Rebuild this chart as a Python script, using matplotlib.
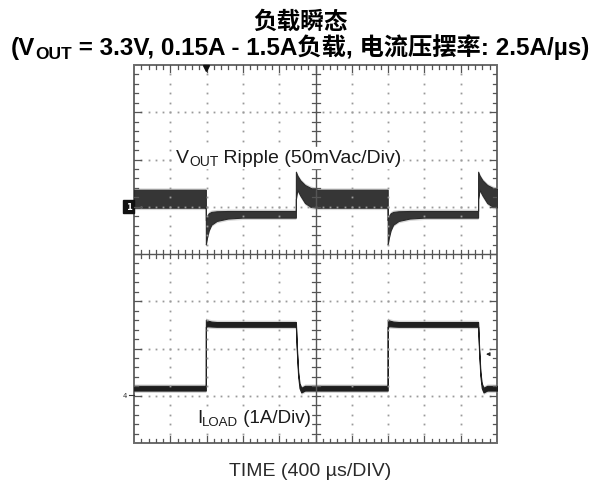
import matplotlib
matplotlib.use("Agg")
import matplotlib.pyplot as plt
from matplotlib.patches import Rectangle

# ---------------- scope settings ----------------
TIME_PER_DIV_US = 400
VOUT_MV_PER_DIV = 50
ILOAD_A_PER_DIV = 1
N_XDIV, N_YDIV = 10, 8
SCREEN_US = N_XDIV * TIME_PER_DIV_US
CH1_POS_DIV = 5.0     # VOUT channel marker, divisions above bottom
CH2_POS_DIV = 1.01    # ILOAD zero marker, divisions above bottom

# ---------------- load-step timing (us from left edge) ----------------
rise_times_us = [792, 2796]
fall_times_us = [1784, 3792]

# ---------------- VOUT ripple envelope (mV, AC coupled) ----------------
vout_light = (18.0, -1.0)            # (upper, lower) at 0.15 A
vout_up_offset_us = [0, 12, 32, 60, 120, 240, 400]
vout_up_upper_mv = [-14, -10, -7, -5.5, -4.8, -4.5, -4.5]
vout_up_lower_mv = [-40, -33, -25, -19, -15, -12.5, -11.5]
vout_dn_offset_us = [0, 16, 48, 100, 160, 240]
vout_dn_upper_mv = [37, 33, 28, 23, 20, 18]
vout_dn_lower_mv = [8, 18, 12, 4, 0, -1]

# ---------------- load current envelope (A) ----------------
iload_low = (0.20, 0.10)             # band around 0.15 A
iload_up_offset_us = [0, 20, 60, 120]
iload_up_upper_a = [1.60, 1.58, 1.56, 1.55]
iload_up_lower_a = [1.45, 1.46, 1.455, 1.45]
iload_dn_offset_us = [0, 10, 25, 40, 60, 100]
iload_dn_upper_a = [1.55, 1.05, 0.50, 0.25, 0.16, 0.20]
iload_dn_lower_a = [1.45, 0.95, 0.40, 0.15, 0.06, 0.10]


def build_envelope(start, profiles):
    """Chain the step responses at every load edge into one envelope."""
    edges = sorted([(t, "up") for t in rise_times_us] +
                   [(t, "dn") for t in fall_times_us])
    t, up, lo = [0.0], [start[0]], [start[1]]
    for te, kind in edges:
        t.append(te - 0.5); up.append(up[-1]); lo.append(lo[-1])
        offs, pu, pl = profiles[kind]
        for o, u, l in zip(offs, pu, pl):
            t.append(te + o); up.append(u); lo.append(l)
    t.append(SCREEN_US + 50); up.append(up[-1]); lo.append(lo[-1])
    return t, up, lo


vt, vu, vl = build_envelope(vout_light, {
    "up": (vout_up_offset_us, vout_up_upper_mv, vout_up_lower_mv),
    "dn": (vout_dn_offset_us, vout_dn_upper_mv, vout_dn_lower_mv)})
it, iu, il = build_envelope(iload_low, {
    "up": (iload_up_offset_us, iload_up_upper_a, iload_up_lower_a),
    "dn": (iload_dn_offset_us, iload_dn_upper_a, iload_dn_lower_a)})

W, H = 600, 485
fig = plt.figure(figsize=(W / 100, H / 100), dpi=100)
fig.patch.set_facecolor("white")
L, R, T, B = 134, 497, 66, 444
ax = fig.add_axes([L / W, 1 - B / H, (R - L) / W, (B - T) / H])
ax.set_xlim(0, N_XDIV)
ax.set_ylim(0, N_YDIV)
ax.axis("off")

# ---------------- graticule ----------------
grid_c = "#9a9a9a"
for i in range(1, N_XDIV):
    if i == N_XDIV // 2:
        continue
    ys = [k * 0.2 for k in range(1, N_YDIV * 5)]
    ax.plot([i] * len(ys), ys, ls="none", marker="s", ms=1.3, mew=0, color=grid_c)
for j in range(1, N_YDIV):
    if j == N_YDIV // 2:
        continue
    xs = [k * 0.2 for k in range(1, N_XDIV * 5)]
    ax.plot(xs, [j] * len(xs), ls="none", marker="s", ms=1.3, mew=0, color=grid_c)

tick_c = "#555555"
sx, sy = 1 / 36.3, 1 / 47.25          # one pixel in x / y divisions
# centre axes with cross ticks
ax.plot([5, 5], [0, N_YDIV], color=tick_c, lw=1.0)
ax.plot([0, N_XDIV], [4, 4], color=tick_c, lw=1.0)
for k in range(1, N_XDIV * 5):
    x = k * 0.2
    ax.plot([x, x], [4 - 4 * sy, 4 + 4 * sy], color=tick_c, lw=0.9)
for k in range(1, N_YDIV * 5):
    y = k * 0.2
    ax.plot([5 - 4 * sx, 5 + 4 * sx], [y, y], color=tick_c, lw=0.9)
# edge ticks
for k in range(1, N_XDIV * 5):
    x = k * 0.2
    ln = (7 if k % 5 == 0 else 4) * sy
    ax.plot([x, x], [0, ln], color=tick_c, lw=0.9)
    ax.plot([x, x], [N_YDIV, N_YDIV - ln], color=tick_c, lw=0.9)
for k in range(1, N_YDIV * 5):
    y = k * 0.2
    ln = (7 if k % 5 == 0 else 4) * sx
    ax.plot([0, ln], [y, y], color=tick_c, lw=0.9)
    ax.plot([N_XDIV, N_XDIV - ln], [y, y], color=tick_c, lw=0.9)
ax.add_patch(Rectangle((0, 0), N_XDIV, N_YDIV, fill=False, ec="#6a6a6a", lw=1.4,
                       clip_on=False))

# ---------------- traces ----------------
vx = [t / TIME_PER_DIV_US for t in vt]
vup = [CH1_POS_DIV + v / VOUT_MV_PER_DIV for v in vu]
vlo = [CH1_POS_DIV + v / VOUT_MV_PER_DIV for v in vl]
ax.fill_between(vx, [v - 0.04 for v in vlo], [v + 0.04 for v in vup],
                color="#8a8a8a", alpha=0.35, lw=0)
ax.fill_between(vx, vlo, vup, color="#363636", ec="#2a2a2a", lw=0.8)

ix = [t / TIME_PER_DIV_US for t in it]
iup = [CH2_POS_DIV + a / ILOAD_A_PER_DIV for a in iu]
ilo = [CH2_POS_DIV + a / ILOAD_A_PER_DIV for a in il]
ax.fill_between(ix, [v - 0.04 for v in ilo], [v + 0.04 for v in iup],
                color="#8a8a8a", alpha=0.35, lw=0)
ax.fill_between(ix, ilo, iup, color="#1e1e1e", ec="#1e1e1e", lw=0.8)

# trigger position and level markers
ax.plot([rise_times_us[0] / TIME_PER_DIV_US], [N_YDIV - 0.06], marker="v", ms=5,
        color="#111111", clip_on=False)
ax.annotate("", xy=(9.62, 1.88), xytext=(9.85, 1.88),
            arrowprops=dict(arrowstyle="-|>", color="#222222", lw=0.8,
                            mutation_scale=5))

# channel markers on the left edge
ax.add_patch(Rectangle((-11 * sx, CH1_POS_DIV - 6.5 * sy), 11 * sx, 13 * sy,
                       color="#111111", clip_on=False))
ax.text(-5.5 * sx, CH1_POS_DIV, "1", color="white", fontsize=6, ha="center",
        va="center", weight="bold")
ax.plot([-5 * sx, 0], [CH2_POS_DIV, CH2_POS_DIV], color="#333333", lw=0.8,
        clip_on=False)
ax.text(-9 * sx, CH2_POS_DIV, "4", color="#333333", fontsize=5, ha="center",
        va="center")

# ---------------- text ----------------
SANS = ["Liberation Sans", "Noto Sans CJK SC", "DejaVu Sans"]


def rich_text(x_px, base_px, pieces, align="left", box=False, **kw):
    """Lay out text pieces on one baseline; each piece is (text, size, drop_px)."""
    arts = [fig.text(0, 0, s, fontsize=fs, va="baseline", ha="left",
                     family=SANS, **kw) for s, fs, _ in pieces]
    fig.canvas.draw()
    rend = fig.canvas.get_renderer()
    widths = [a.get_window_extent(rend).width for a in arts]
    x = x_px - sum(widths) / 2 if align == "center" else x_px
    x_start = x
    for a, (_, _, drop), w in zip(arts, pieces, widths):
        a.set_position((x / W, (H - base_px - drop) / H))
        x += w
    if box:
        fs = pieces[0][1] * 100 / 72
        fig.patches.append(Rectangle((x_start / W, (H - base_px - 0.3 * fs) / H),
                                     (x - x_start) / W, 1.05 * fs / H,
                                     transform=fig.transFigure, color="white",
                                     zorder=1))
    return arts


fig.text(0.5, 1 - 29 / H, "负载瞬态", ha="center", va="baseline", fontsize=17,
         weight="bold", family=["Noto Sans CJK SC", "DejaVu Sans"])
rich_text(300, 55, [("(V", 17.5, 0), ("OUT", 12.5, 4),
                    (" = 3.3V, 0.15A - 1.5A负载, 电流压摆率: 2.5A/µs)", 17.5, 0)],
          align="center", weight="bold", color="black")

rich_text(176, 163, [("V", 14, 0), ("OUT", 10, 3), (" Ripple (50mVac/Div)", 14, 0)],
          box=True, color="#1a1a1a", zorder=3)
rich_text(197, 423, [("I", 13.5, 0), ("LOAD", 9.5, 3), (" (1A/Div)", 13.5, 0)],
          box=True, color="#1a1a1a", zorder=3)
rich_text(310, 476, [("TIME (400 µs/DIV)", 14, 0)], align="center", color="#2a2a2a")

fig.savefig("out.png", dpi=100, facecolor="white")
